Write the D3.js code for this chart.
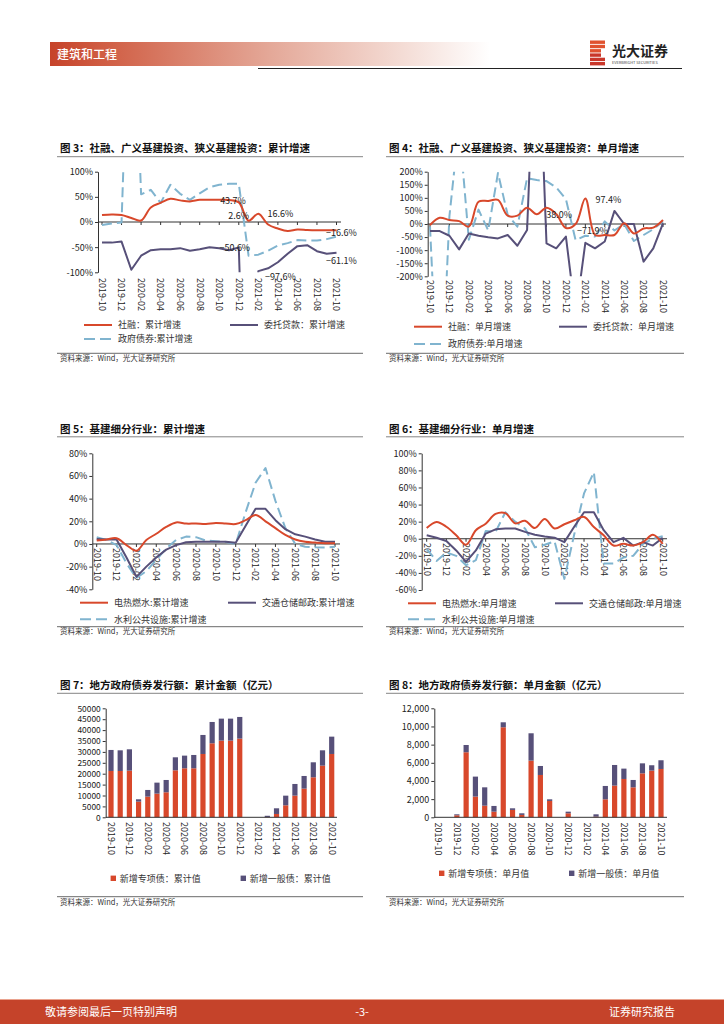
<!DOCTYPE html>
<html>
<head>
<meta charset="utf-8">
<script src="https://cdnjs.cloudflare.com/ajax/libs/d3/7.8.5/d3.min.js"></script>
<style>
  body { margin: 0; background: #fff; }
  svg text { font-family: "Noto Sans CJK SC", "Liberation Sans", sans-serif; }
</style>
</head>
<body>
<div id="page"></div>
<script>
// months on every x axis
var months = ["2019-10","2019-11","2019-12","2020-01","2020-02","2020-03","2020-04","2020-05",
  "2020-06","2020-07","2020-08","2020-09","2020-10","2020-11","2020-12","2021-01","2021-02",
  "2021-03","2021-04","2021-05","2021-06","2021-07","2021-08","2021-09","2021-10"]
var tickMonths = ["2019-10","2019-12","2020-02","2020-04","2020-06","2020-08","2020-10",
  "2020-12","2021-02","2021-04","2021-06","2021-08","2021-10"]

// fig 3: cumulative growth (%)
var sfCum = [13.7, 15, 14, 8, 3, 29, 38, 46, 43, 41, 44, 44, 44, 43.7, 39, 2.6, 16.6, -5, -13, -18, -15, -16, -16.5, -16.5, -16.6]
var wtCum = [-41, -41, -39, -95, -67, -56, -54, -54, -52, -57, -54, -50, -52, -56, -50.6, -650, -97.6, -92, -80, -63, -48, -46, -58, -63, -61.1]
var zfCum = [-6, -3, -1, 580, 55, 64, 38, 74, 56, 44, 57, 69, 74, 76, 76, -67, -65, -57, -47, -42, -36, -37, -37, -34, -29]
var ticks3 = [-100, -50, 0, 50, 100]

// fig 4: monthly growth (%)
var sfMon = [-4, 24, 15, 11, -10, 85, 88, 92, 32, 32, 62, 37, 62, 38, -15, 0, 97.4, -42, -42, -42, 3, -36, -17, -14, 15]
var wtMon = [-27, -27, -45, -97, -36, -45, -51, -55, -42, -83, -23, 900, -74, -93, -48, -350, -71.9, -93, -67, 50, 0, 0, -144, -93, 2]
var zfMon = [-10, -800, 30, 380, -60, 55, -25, 195, 35, -10, 175, 168, 164, 140, 95, -62, -45, -48, 10, -25, 0, -65, -42, -20, 10]
var ticks4 = [-200, -150, -100, -50, 0, 50, 100, 150, 200]

// fig 5: sub-sector cumulative growth (%)
var drCum = [3, 4, 5, -1, -6, 3.5, 9, 15, 19, 18, 18, 17.6, 18.5, 18, 17.6, 21, 25.6, 20, 14, 8, 4, 2, 1.2, 0.6, 0.6]
var jtCum = [4.4, 4, 4, -12, -29, -20, -12, -5, -1, 1.5, 2, 2, 2, 2, 1, 16, 31, 31, 21, 13, 8.5, 6.5, 4, 2, 2]
var slCum = [6, 3.5, -1, -17, -30, -24, -14, -4, 3.5, 6.5, 6, 3, 2.4, 1.8, 0, 28, 54, 67, 38, 14, 0, -2.4, -3, -3.2, -2.4]
var ticks5 = [-40, -20, 0, 20, 40, 60, 80]

// fig 6: sub-sector monthly growth (%)
var drMon = [12.5, 19.6, 14, 4, -7, 10, 17.6, 29, 30, 18, 21, 12.5, 23, 12, 17, 21.6, 25.5, 13.7, 4, -8, -6, -8, -4, 4.7, -6]
var jtMon = [4, 1.2, -2.7, -13.7, -27, -13.7, 6, 11, 12, 12, 8, 4.7, 2.7, 1.2, -4, 14, 31, 31, 10, -4, 1, -8, -4, -8, 1]
var slMon = [-12, -26, -16, -20, -31, -25, 9, 8, 31, 20, 12, -10, -7, -3, -47, 5, 53, 78, -29, -29, -22, -20, -6, 0, 3]
var ticks6 = [-60, -40, -20, 0, 20, 40, 60, 80, 100]

// fig 7: local gov bonds, cumulative (100m yuan)
var zxCum = [21250, 21250, 21400, 7190, 9480, 10860, 11470, 21560, 22480, 22480, 29050, 33950, 35170, 35170, 36090, 0, 0, 100, 1530, 5500, 9940, 13150, 18350, 23700, 29050]
var ybCum = [9640, 9480, 9790, 1070, 3060, 5040, 5650, 5960, 5810, 6110, 8720, 9780, 10090, 10090, 9940, 0, 0, 600, 2600, 4430, 5350, 5810, 6880, 7030, 7950]
var ticks7 = [0, 5000, 10000, 15000, 20000, 25000, 30000, 35000, 40000, 45000, 50000]

// fig 8: local gov bonds, monthly (100m yuan)
var zxMon = [0, 0, 220, 7160, 2280, 1280, 620, 9910, 810, 260, 6240, 4660, 1800, 0, 440, 0, 0, 70, 1980, 3490, 4220, 3300, 4840, 5140, 5320]
var ybMon = [0, 0, 110, 800, 2200, 2020, 630, 550, 180, 180, 3010, 990, 180, 0, 180, 0, 0, 260, 1470, 2270, 1140, 810, 1100, 590, 960]
var ticks8 = [0, 2000, 4000, 6000, 8000, 10000, 12000]

var RED = "#d8482b", PURPLE = "#575079", BLUE = "#80b4cf"
var NUM = "Liberation Sans, Arial, sans-serif"

var svg = d3.select("#page").append("svg")
  .attr("width", 724)
  .attr("height", 1024)

// header
var defs = svg.append("defs")
var grad = defs.append("linearGradient").attr("id", "hdr")
grad.append("stop").attr("offset", "0%").attr("stop-color", "#c6432a")
grad.append("stop").attr("offset", "12%").attr("stop-color", "#d05d43")
grad.append("stop").attr("offset", "50%").attr("stop-color", "#e4a898")
grad.append("stop").attr("offset", "80%").attr("stop-color", "#f4dcd5")
grad.append("stop").attr("offset", "100%").attr("stop-color", "#ffffff")

svg.append("rect").attr("x", 50).attr("y", 42).attr("width", 440).attr("height", 24)
  .attr("fill", "url(#hdr)")
svg.append("text").attr("x", 57).attr("y", 58.5).attr("fill", "#fff")
  .attr("font-size", 12).attr("font-weight", 500).text("建筑和工程")
svg.append("line").attr("x1", 258).attr("x2", 682).attr("y1", 68.5).attr("y2", 68.5)
  .attr("stroke", "#222").attr("stroke-width", 1)

// logo
var stripes = [15, 15, 11, 11, 15, 15]
svg.selectAll(".stripe").data(stripes).enter().append("rect")
  .attr("x", 590).attr("y", function(d, i) { return 40.5 + i * 4.3 })
  .attr("width", function(d) { return d }).attr("height", 3.4)
  .attr("fill", function(d, i) { return i < 3 ? "#e0522f" : "#c9372a" })
svg.append("text").attr("x", 612).attr("y", 56).attr("fill", "#222")
  .attr("font-size", 14).attr("font-weight", 700).text("光大证券")
svg.append("text").attr("x", 612).attr("y", 63.5).attr("fill", "#444")
  .attr("font-size", 3.9).attr("font-family", NUM).text("EVERBRIGHT SECURITIES")

// footer
svg.append("rect").attr("x", 0).attr("y", 999).attr("width", 724).attr("height", 25).attr("fill", "#c5432a")
svg.append("rect").attr("x", 0).attr("y", 999).attr("width", 724).attr("height", 1).attr("fill", "#eaa28e")
svg.append("text").attr("x", 45).attr("y", 1015.5).attr("fill", "#fff").attr("font-size", 11).text("敬请参阅最后一页特别声明")
svg.append("text").attr("x", 362).attr("y", 1015.5).attr("fill", "#fff").attr("font-size", 11)
  .attr("text-anchor", "middle").attr("font-family", NUM).text("-3-")
svg.append("text").attr("x", 675).attr("y", 1015.5).attr("fill", "#fff").attr("font-size", 11)
  .attr("text-anchor", "end").text("证券研究报告")

// frame: title, rule lines and source note
function frame(x1, x2, title, titleY, lineY, srcLineY, srcY) {
  svg.append("text").attr("x", x1 + 3).attr("y", titleY).attr("fill", "#111")
    .attr("font-size", 10.5).attr("font-weight", 700).text(title)
  svg.append("line").attr("x1", x1).attr("x2", x2).attr("y1", lineY).attr("y2", lineY)
    .attr("stroke", "#666").attr("stroke-width", 0.8)
  svg.append("line").attr("x1", x1).attr("x2", x2).attr("y1", srcLineY).attr("y2", srcLineY)
    .attr("stroke", "#444").attr("stroke-width", 0.8)
  svg.append("text").attr("x", x1 + 3).attr("y", srcY).attr("fill", "#333")
    .attr("font-size", 7.5).text("资料来源：Wind，光大证券研究所")
}

function legendLine(x, y, color, dash, label) {
  svg.append("line").attr("x1", x).attr("x2", x + 28).attr("y1", y).attr("y2", y)
    .attr("stroke", color).attr("stroke-width", 2)
    .attr("stroke-dasharray", dash ? "11,5" : null)
  svg.append("text").attr("x", x + 34).attr("y", y + 3.2).attr("fill", "#333")
    .attr("font-size", 9).text(label)
}

function legendBox(x, y, color, label) {
  svg.append("rect").attr("x", x - 2.7).attr("y", y - 2.7).attr("width", 5.4).attr("height", 5.4)
    .attr("fill", color)
  svg.append("text").attr("x", x + 6.5).attr("y", y + 3.2).attr("fill", "#333")
    .attr("font-size", 9).text(label)
}

function yAxis(g, y, o, fmt) {
  var ax = g.append("g").attr("transform", "translate(" + o.xl + ",0)")
    .call(d3.axisLeft(y).tickValues(o.ticks).tickSize(3).tickSizeOuter(0).tickFormat(fmt))
  ax.attr("font-family", NUM).attr("font-size", o.fs || 9)
  ax.select(".domain").attr("stroke", "#333")
  ax.selectAll(".tick line").attr("stroke", "#333")
  ax.selectAll(".tick text").attr("fill", "#222").attr("x", -5)
}

function xLabels(g, x, o) {
  g.selectAll(".xl").data(tickMonths).enter().append("text")
    .attr("transform", function(d) { return "translate(" + x(d) + "," + o.labelY + ") rotate(90)" })
    .attr("dy", "0.35em")
    .attr("font-family", NUM).attr("font-size", 9).attr("fill", "#222")
    .text(function(d) { return d })
}

var clipId = 0
function lineChart(o) {
  var g = svg.append("g")
  var x = d3.scalePoint().domain(months).range([o.x0, o.x1])
  var y = d3.scaleLinear().domain(o.domain).range([o.yBot, o.yTop])

  yAxis(g, y, o, function(d) { return d + "%" })

  g.append("line").attr("x1", o.xl).attr("x2", o.xr).attr("y1", y(0)).attr("y2", y(0))
    .attr("stroke", "#333").attr("stroke-width", 1)
  g.selectAll(".xt").data(tickMonths).enter().append("line")
    .attr("x1", function(d) { return x(d) }).attr("x2", function(d) { return x(d) })
    .attr("y1", y(0)).attr("y2", y(0) + 3).attr("stroke", "#333")
  xLabels(g, x, o)

  var id = "clip" + (clipId++)
  defs.append("clipPath").attr("id", id).append("rect")
    .attr("x", o.xl).attr("y", o.yTop).attr("width", o.xr - o.xl).attr("height", o.yBot - o.yTop)
  var plot = g.append("g").attr("clip-path", "url(#" + id + ")")

  o.series.forEach(function(s) {
    var line = d3.line()
      .x(function(d, i) { return x(months[i]) })
      .y(function(d) { return y(d) })
      .curve(s.smooth ? d3.curveCatmullRom.alpha(0.5) : d3.curveLinear)
    plot.append("path").datum(s.values).attr("d", line)
      .attr("fill", "none").attr("stroke", s.color).attr("stroke-width", 2)
      .attr("stroke-linejoin", "round")
      .attr("stroke-dasharray", s.dash ? "10,5" : null)
  })

  ;(o.notes || []).forEach(function(n) {
    var v = o.series[n.s].values[n.i]
    g.append("text").attr("x", x(months[n.i]) + n.dx).attr("y", y(v) + n.dy)
      .attr("text-anchor", "middle").attr("dy", "0.35em")
      .attr("font-family", NUM).attr("font-size", 9).attr("fill", "#222")
      .text(d3.format(".1f")(v) + "%")
  })
}

function barChart(o) {
  var g = svg.append("g")
  var x = d3.scalePoint().domain(months).range([o.x0, o.x1])
  var y = d3.scaleLinear().domain(o.domain).range([o.yBot, o.yTop])

  yAxis(g, y, o, o.fmt)

  var stack = months.map(function(m, i) { return { m: m, a: o.a[i], b: o.b[i] } })
  g.selectAll(".ba").data(stack).enter().append("rect")
    .attr("x", function(d) { return x(d.m) - 2.6 }).attr("width", 5.2)
    .attr("y", function(d) { return y(d.a) })
    .attr("height", function(d) { return y(0) - y(d.a) })
    .attr("fill", RED)
  g.selectAll(".bb").data(stack).enter().append("rect")
    .attr("x", function(d) { return x(d.m) - 2.6 }).attr("width", 5.2)
    .attr("y", function(d) { return y(d.a + d.b) })
    .attr("height", function(d) { return y(d.a) - y(d.a + d.b) })
    .attr("fill", PURPLE)

  g.append("line").attr("x1", o.xl).attr("x2", o.xr).attr("y1", y(0)).attr("y2", y(0))
    .attr("stroke", "#333").attr("stroke-width", 1)
  xLabels(g, x, o)
}

// fig 3
frame(57, 363, "图 3：社融、广义基建投资、狭义基建投资：累计增速", 151.5, 156.7, 353.3, 360.5)
lineChart({
  x0: 102, x1: 336.5, xl: 98, xr: 341, yTop: 171.7, yBot: 272.3,
  domain: [-100, 100], ticks: ticks3, labelY: 278,
  series: [
    { values: zfCum, color: BLUE, dash: true },
    { values: wtCum, color: PURPLE },
    { values: sfCum, color: RED, smooth: true }
  ],
  notes: [
    { s: 2, i: 13, dx: 4, dy: 1 }, { s: 2, i: 15, dx: -10, dy: -5 },
    { s: 2, i: 16, dx: 22, dy: 0 }, { s: 2, i: 24, dx: 5, dy: 3 },
    { s: 1, i: 14, dx: -4, dy: 0 }, { s: 1, i: 16, dx: 22, dy: 6 },
    { s: 1, i: 24, dx: 5, dy: 8 }
  ]
})
legendLine(84, 325, RED, false, "社融：累计增速")
legendLine(230, 325, PURPLE, false, "委托贷款：累计增速")
legendLine(84, 339, BLUE, true, "政府债券:累计增速")

// fig 4
frame(386, 684, "图 4：社融、广义基建投资、狭义基建投资：单月增速", 151.5, 156.7, 353.3, 360.5)
lineChart({
  x0: 430, x1: 663, xl: 427.7, xr: 666, yTop: 171.7, yBot: 276.3,
  domain: [-200, 200], ticks: ticks4, labelY: 280,
  series: [
    { values: zfMon, color: BLUE, dash: true },
    { values: wtMon, color: PURPLE },
    { values: sfMon, color: RED, smooth: true }
  ],
  notes: [
    { s: 2, i: 13, dx: 3, dy: 1 }, { s: 2, i: 16, dx: 23, dy: 1 },
    { s: 1, i: 16, dx: 7, dy: -12 }
  ]
})
legendLine(414, 326.7, RED, false, "社融：单月增速")
legendLine(559, 326.7, PURPLE, false, "委托贷款：单月增速")
legendLine(414, 344, BLUE, true, "政府债券:单月增速")

// fig 5
frame(57, 363, "图 5：基建细分行业：累计增速", 433, 436.8, 626.7, 633.5)
lineChart({
  x0: 96.7, x1: 335, xl: 92.3, xr: 340, yTop: 453.3, yBot: 589.3,
  domain: [-40, 80], ticks: ticks5, labelY: 548,
  series: [
    { values: slCum, color: BLUE, dash: true },
    { values: jtCum, color: PURPLE },
    { values: drCum, color: RED, smooth: true }
  ]
})
legendLine(80, 602.7, RED, false, "电热燃水:累计增速")
legendLine(228, 602.7, PURPLE, false, "交通仓储邮政:累计增速")
legendLine(80, 619.3, BLUE, true, "水利公共设施:累计增速")

// fig 6
frame(386, 684, "图 6：基建细分行业：单月增速", 433, 436.8, 626.7, 633.5)
lineChart({
  x0: 426.7, x1: 662.7, xl: 421.7, xr: 667, yTop: 453.3, yBot: 590,
  domain: [-60, 100], ticks: ticks6, labelY: 543,
  series: [
    { values: slMon, color: BLUE, dash: true },
    { values: jtMon, color: PURPLE },
    { values: drMon, color: RED, smooth: true }
  ]
})
legendLine(408, 603.3, RED, false, "电热燃水:单月增速")
legendLine(555, 603.3, PURPLE, false, "交通仓储邮政:单月增速")
legendLine(408, 619.3, BLUE, true, "水利公共设施:单月增速")

// fig 7
frame(57, 363, "图 7：地方政府债券发行额：累计金额（亿元）", 689, 693.3, 896.7, 904.5)
barChart({
  x0: 111, x1: 331.7, xl: 105.7, xr: 337, yTop: 708.3, yBot: 817.3,
  domain: [0, 50000], ticks: ticks7, labelY: 822, fmt: d3.format("d"), fs: 8.4,
  a: zxCum, b: ybCum
})
legendBox(113.3, 878.3, RED, "新增专项债：累计值")
legendBox(243.3, 878.3, PURPLE, "新增一般债：累计值")

// fig 8
frame(386, 684, "图 8：地方政府债券发行额：单月金额（亿元）", 689, 693.3, 896.7, 904.5)
barChart({
  x0: 438.3, x1: 661, xl: 434.3, xr: 667, yTop: 708.3, yBot: 817.3,
  domain: [0, 12000], ticks: ticks8, labelY: 822.5, fmt: d3.format(","),
  a: zxMon, b: ybMon
})
legendBox(441.7, 873.3, RED, "新增专项债：单月值")
legendBox(571.7, 873.3, PURPLE, "新增一般债：单月值")
</script>
</body>
</html>
